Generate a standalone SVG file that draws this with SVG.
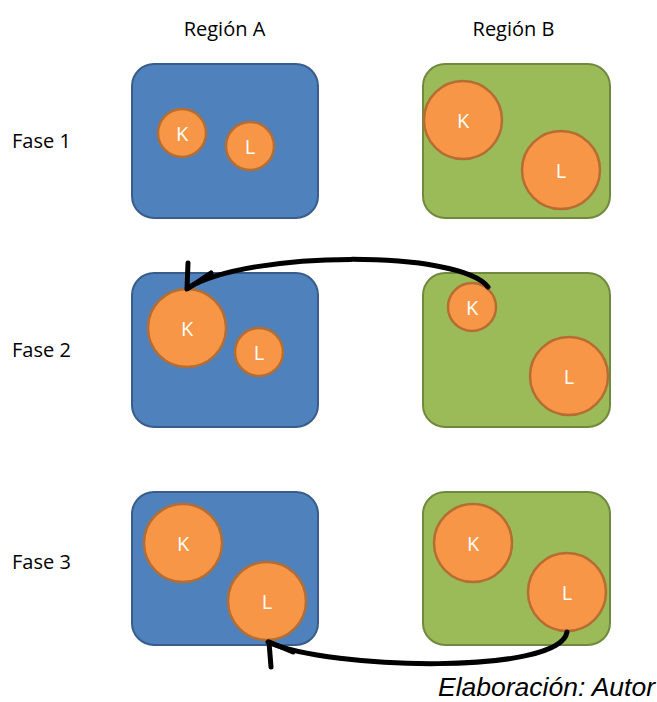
<svg xmlns="http://www.w3.org/2000/svg" width="657" height="702" viewBox="0 0 657 702">
<style>
.a{fill:#4F81BD;stroke:#385D8A;stroke-width:2}
.b{fill:#9BBB59;stroke:#71893F;stroke-width:2}
.c{fill:#F79646;stroke:#B66D31;stroke-width:2.5}
.t{font-family:"Open Sans","Noto Sans",sans-serif;font-size:20px;fill:#fff;text-anchor:middle}
.h{font-family:"Open Sans","Noto Sans",sans-serif;font-size:20px;fill:#000}
.e{fill:none;stroke:#000;stroke-width:5;stroke-linecap:round;stroke-linejoin:round}
</style>
<g id="labels">
<text class="h" x="224.5" y="36" text-anchor="middle">Región A</text>
<text class="h" x="513.5" y="36" text-anchor="middle">Región B</text>
<text class="h" x="12" y="148">Fase 1</text>
<text class="h" x="12" y="357">Fase 2</text>
<text class="h" x="12" y="569">Fase 3</text>
<text x="655" y="696" text-anchor="end" font-family="'Liberation Sans',Arial,sans-serif" font-style="italic" font-size="26.5" fill="#000">Elaboración: Autor</text>
</g>
<g id="A1"><rect class="a" x="132" y="64" width="186" height="154" rx="22"/>
<circle class="c" cx="182" cy="133" r="24"/><text class="t" x="182" y="141">K</text>
<circle class="c" cx="250" cy="146" r="24"/><text class="t" x="250" y="154">L</text></g>
<g id="B1"><rect class="b" x="423" y="64" width="187" height="154" rx="22"/>
<circle class="c" cx="463" cy="120" r="39"/><text class="t" x="463" y="128">K</text>
<circle class="c" cx="561" cy="170" r="39"/><text class="t" x="561" y="178">L</text></g>
<g id="A2"><rect class="a" x="132" y="273" width="186" height="154" rx="22"/>
<circle class="c" cx="187" cy="328" r="39"/><text class="t" x="187" y="336">K</text>
<circle class="c" cx="259" cy="352" r="24"/><text class="t" x="259" y="360">L</text></g>
<g id="B2"><rect class="b" x="423" y="273" width="187" height="154" rx="22"/>
<circle class="c" cx="472" cy="307" r="24"/><text class="t" x="472" y="315">K</text>
<circle class="c" cx="569" cy="376" r="39"/><text class="t" x="569" y="384">L</text></g>
<g id="A3"><rect class="a" x="132" y="492" width="186" height="153" rx="22"/>
<circle class="c" cx="183" cy="543" r="39"/><text class="t" x="183" y="551">K</text>
<circle class="c" cx="267" cy="601" r="39"/><text class="t" x="267" y="609">L</text></g>
<g id="B3"><rect class="b" x="423" y="492" width="187" height="153" rx="22"/>
<circle class="c" cx="473" cy="543" r="39"/><text class="t" x="473" y="551">K</text>
<circle class="c" cx="567" cy="592" r="39"/><text class="t" x="567" y="600">L</text></g>
<g id="connectors">
<path class="e" d="M488,287 C460,250 250,250 188,288"/>
<path class="e" d="M188,263 L187,289 L211,273"/>
<path class="e" d="M567,632 C560,675 330,670 268,642"/>
<path class="e" d="M271,667 L269,642 L293,652"/>
</g>
</svg>
